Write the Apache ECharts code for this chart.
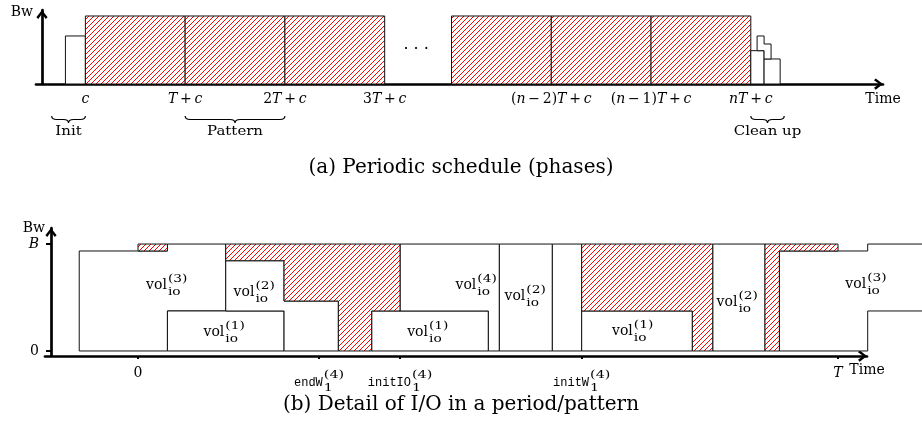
<!DOCTYPE html>
<html>
<head>
<meta charset="utf-8">
<script src="https://cdn.jsdelivr.net/npm/echarts@6.0.0/dist/echarts.min.js"></script>
<style>html,body{margin:0;padding:0;background:#fff}#chart{width:922px;height:438px}</style>
</head>
<body>
<div id="chart"></div>
<script>
// ---------- Panel (a): time in units of T measured from the Bw axis, height relative to the full bandwidth ----------
const initBlock = [[0.235, 0.435, 0.706]];                 // [start, end, height]
const patternStarts = [0.435, 1.435, 2.435, 4.105, 5.105, 6.105];
const patternLength = 1;
const patternHeight = 1;
const cleanupBlocks = [[7.105, 7.238, 0.49], [7.238, 7.399, 0.368]];
const cleanupStep = [[7.168, 0.49], [7.168, 0.706], [7.238, 0.706], [7.238, 0.588],
                     [7.308, 0.588], [7.308, 0.368], [7.238, 0.368], [7.238, 0.49]];
const phaseTickValues = [0.435, 1.435, 2.435, 3.435, 5.105, 6.105, 7.105];
const phaseTickLabels = [
  '{i|c}',
  '{i|T}{r|\u2009+\u2009}{i|c}',
  '{r|2}{i|T}{r|\u2009+\u2009}{i|c}',
  '{r|3}{i|T}{r|\u2009+\u2009}{i|c}',
  '{r|(}{i|n}{r|\u2009\u2212\u20092)}{i|T}{r|\u2009+\u2009}{i|c}',
  '{r|(}{i|n}{r|\u2009\u2212\u20091)}{i|T}{r|\u2009+\u2009}{i|c}',
  '{i|nT}{r|\u2009+\u2009}{i|c}'
];
const phaseBraces = [[0.097, 0.435, 'Init'], [1.435, 2.435, 'Pattern'], [7.105, 7.44, 'Clean up']];
const ellipsisPoint = [[3.75, 0.5]];

// ---------- Panel (b): time in units of T, bandwidth in units of B ----------
const ioShapes = [
  [[-0.084, 0], [-0.084, 0.935], [0.042, 0.935], [0.042, 1], [0.1253, 1], [0.1253, 0.374], [0.042, 0.374], [0.042, 0]],
  [[0.042, 0], [0.042, 0.374], [0.2086, 0.374], [0.2086, 0]],
  [[0.1253, 0.374], [0.1253, 0.844], [0.2086, 0.844], [0.2086, 0.467], [0.2862, 0.467], [0.2862, 0], [0.2086, 0], [0.2086, 0.374]],
  [[0.3338, 0], [0.3338, 0.374], [0.5005, 0.374], [0.5005, 0]],
  [[0.3743, 0.374], [0.3743, 1], [0.5162, 1], [0.5162, 0], [0.5005, 0], [0.5005, 0.374]],
  [[0.5162, 0], [0.5162, 1], [0.5919, 1], [0.5919, 0]],
  [[0.5919, 0], [0.5919, 1], [0.6338, 1], [0.6338, 0]],
  [[0.6338, 0], [0.6338, 0.374], [0.7919, 0.374], [0.7919, 0]],
  [[0.8210, 0], [0.8210, 1], [0.8957, 1], [0.8957, 0]],
  [[0.9162, 0], [0.9162, 0.935], [1.0424, 0.935], [1.0424, 1], [1.13, 1], [1.13, 0.374], [1.0424, 0.374], [1.0424, 0]]
];
const idleShapes = [
  [[0, 0.935], [0, 1], [0.042, 1], [0.042, 0.935]],
  [[0.1253, 1], [0.3743, 1], [0.3743, 0.374], [0.3338, 0.374], [0.3338, 0], [0.2862, 0], [0.2862, 0.467], [0.2086, 0.467], [0.2086, 0.844], [0.1253, 0.844]],
  [[0.6338, 1], [0.8210, 1], [0.8210, 0], [0.7919, 0], [0.7919, 0.374], [0.6338, 0.374]],
  [[0.8957, 1], [1.0, 1], [1.0, 0.935], [0.9162, 0.935], [0.9162, 0], [0.8957, 0]]
];
// [x centre, baseline (B units), superscript]
const volLabels = [
  [0.041, 0.57, '(3)'], [0.123, 0.134, '(1)'], [0.166, 0.507, '(2)'],
  [0.414, 0.134, '(1)'], [0.483, 0.57, '(4)'], [0.553, 0.467, '(2)'],
  [0.7066, 0.14, '(1)'], [0.856, 0.414, '(2)'], [1.04, 0.58, '(3)']
];
const ioTickValues = [0, 0.2586, 0.3743, 0.6338, 1];
const ioLabelValues = [0, 1];
const ioLabelTexts = ['{r|0}', '{i|T}'];
const ioNamedTicks = [[0.2586, 'endW', '(4)', '1'], [0.3743, 'initIO', '(4)', '1'], [0.6338, 'initW', '(4)', '1']];
const bwTickValues = [0, 1];
const bwTickTexts = ['{r|0}', '{i|B}'];

// ---------- helpers ----------
const SERIF = '"DejaVu Serif"';
const hatchCanvas = (function () {
  const s = 5, c = document.createElement('canvas');
  c.width = s; c.height = s;
  const g = c.getContext('2d');
  g.fillStyle = '#ffffff'; g.fillRect(0, 0, s, s);
  g.strokeStyle = '#ff0000'; g.lineWidth = 1;
  g.beginPath();
  g.moveTo(-1, s + 1); g.lineTo(s + 1, -1);
  g.moveTo(-1, 1); g.lineTo(1, -1);
  g.moveTo(s - 1, s + 1); g.lineTo(s + 1, s - 1);
  g.stroke();
  return c;
})();
const HATCH = { image: hatchCanvas, repeat: 'repeat' };
const measureCtx = document.createElement('canvas').getContext('2d');
function textWidth(t, font) { measureCtx.font = font; return measureCtx.measureText(t).width; }
function poly(api, pts, fill) {
  return { type: 'polygon', shape: { points: pts.map(q => api.coord(q)) },
           style: { fill: fill, stroke: '#111', lineWidth: 1 } };
}
function rectPts(x0, x1, y0, y1) { return [[x0, y0], [x0, y1], [x1, y1], [x1, y0]]; }
function scripted(cx, mid, main, mainFont, sup, sub, smallFont, sx, supDy, subDy) {
  const wm = textWidth(main, mainFont);
  const ws = textWidth(sup, smallFont) * sx, wb = textWidth(sub, smallFont) * sx;
  const left = cx - (wm + 1 + Math.max(ws, wb)) / 2;
  const x2 = left + wm + 1;
  return [
    { type: 'text', x: left, y: mid, style: { text: main, font: mainFont, fill: '#000', align: 'left', verticalAlign: 'middle' } },
    { type: 'text', x: x2, y: mid + supDy, scaleX: sx, style: { text: sup, font: smallFont, fill: '#000', align: 'left', verticalAlign: 'middle' } },
    { type: 'text', x: x2, y: mid + subDy, scaleX: sx, style: { text: sub, font: smallFont, fill: '#000', align: 'left', verticalAlign: 'middle' } }
  ];
}
echarts.graphic.registerShape('brace', echarts.graphic.extendShape({
  type: 'brace',
  shape: { x1: 0, x2: 0, y: 0, h: 6 },
  buildPath: function (ctx, s) {
    const m = (s.x1 + s.x2) / 2, r = Math.min(5, (s.x2 - s.x1) / 6), hm = s.y + s.h * 0.5;
    ctx.moveTo(s.x1, s.y);
    ctx.quadraticCurveTo(s.x1, hm, s.x1 + r, hm);
    ctx.lineTo(m - r, hm);
    ctx.quadraticCurveTo(m, hm, m, s.y + s.h);
    ctx.quadraticCurveTo(m, hm, m + r, hm);
    ctx.lineTo(s.x2 - r, hm);
    ctx.quadraticCurveTo(s.x2, hm, s.x2, s.y);
  }
}));

const ARROW = 'path://M5,0 L10,6.5 L8.3,8 L5,3.4 L1.7,8 L0,6.5 Z';
const RICH = {
  i: { fontFamily: SERIF, fontStyle: 'italic', fontSize: 14, color: '#000' },
  r: { fontFamily: SERIF, fontSize: 14, color: '#000' }
};
const axisLineStyle = { color: '#000', width: 2.7 };
const arrowLine = { symbol: ['none', ARROW], symbolSize: [12, 9], symbolOffset: [0, -4.5] };
function nearestIdx(arr, v) { return arr.findIndex(t => Math.abs(t - v) < 1e-6); }

const bottomYMin = -0.047;

const option = {
  animation: false,
  backgroundColor: '#fff',
  title: [
    { text: '(a) Periodic schedule (phases)', left: 'center', top: 158, padding: 0,
      textStyle: { fontFamily: SERIF, fontSize: 20, fontWeight: 'normal', color: '#000' } },
    { text: '(b) Detail of I/O in a period/pattern', left: 'center', top: 395, padding: 0,
      textStyle: { fontFamily: SERIF, fontSize: 20, fontWeight: 'normal', color: '#000' } }
  ],
  grid: [
    { left: 36, right: 39, top: 10, bottom: 354, containLabel: false, outerBoundsMode: 'none' },
    { left: 45, right: 55, top: 228, bottom: 82, containLabel: false, outerBoundsMode: 'none' }
  ],
  xAxis: [
    { gridIndex: 0, type: 'value', min: -0.06, max: 8.43,
      axisLine: Object.assign({ show: true, onZero: true, lineStyle: axisLineStyle }, arrowLine),
      axisTick: { show: false }, splitLine: { show: false },
      axisLabel: { show: true, customValues: phaseTickValues, margin: 8, rich: RICH,
        formatter: v => { const k = nearestIdx(phaseTickValues, v); return k < 0 ? '' : phaseTickLabels[k]; } },
      name: 'Time', nameLocation: 'end', nameGap: 0,
      nameTextStyle: { fontFamily: SERIF, fontSize: 14, color: '#000', align: 'center', verticalAlign: 'top', padding: [8, 0, 0, 0] } },
    { gridIndex: 1, type: 'value', min: -0.1329, max: 1.0414,
      axisLine: Object.assign({ show: true, onZero: false, lineStyle: axisLineStyle }, arrowLine),
      axisTick: { show: true, customValues: ioTickValues, length: 3, lineStyle: { color: '#000', width: 2 } },
      splitLine: { show: false },
      axisLabel: { show: true, customValues: ioLabelValues, margin: 10, rich: RICH,
        formatter: v => { const k = nearestIdx(ioLabelValues, v); return k < 0 ? '' : ioLabelTexts[k]; } },
      name: 'Time', nameLocation: 'end', nameGap: 0,
      nameTextStyle: { fontFamily: SERIF, fontSize: 14, color: '#000', align: 'center', verticalAlign: 'top', padding: [7, 0, 0, 0] } }
  ],
  yAxis: [
    { gridIndex: 0, type: 'value', min: 0, max: 1.088,
      axisLine: Object.assign({ show: true, onZero: true, lineStyle: axisLineStyle }, arrowLine),
      axisTick: { show: false }, axisLabel: { show: false }, splitLine: { show: false },
      name: 'Bw', nameLocation: 'end', nameGap: -2,
      nameTextStyle: { fontFamily: SERIF, fontSize: 14, color: '#000', align: 'right', verticalAlign: 'middle', padding: [0, 9, 0, 0] } },
    { gridIndex: 1, type: 'value', min: bottomYMin, max: 1.15, offset: -6,
      axisLine: Object.assign({ show: true, onZero: false, lineStyle: axisLineStyle }, arrowLine),
      axisTick: { show: true, customValues: bwTickValues, length: 5, lineStyle: { color: '#000', width: 2 } },
      axisLabel: { show: true, customValues: bwTickValues, margin: 12, rich: RICH,
        formatter: v => { const k = nearestIdx(bwTickValues, v); return k < 0 ? '' : bwTickTexts[k]; } },
      splitLine: { show: false },
      name: 'Bw', nameLocation: 'end', nameGap: 0,
      nameTextStyle: { fontFamily: SERIF, fontSize: 14, color: '#000', align: 'right', verticalAlign: 'middle', padding: [0, 6, 0, 0] } }
  ],
  series: [
    { type: 'custom', name: 'Init', xAxisIndex: 0, yAxisIndex: 0, silent: true, z: 2,
      data: initBlock.map(b => [b[0], b[2]]),
      renderItem: (p, api) => { const b = initBlock[p.dataIndex]; return poly(api, rectPts(b[0], b[1], 0, b[2]), '#fff'); } },
    { type: 'custom', name: 'Pattern', xAxisIndex: 0, yAxisIndex: 0, silent: true, z: 2,
      data: patternStarts.map(s => [s, patternHeight]),
      renderItem: (p, api) => { const s = patternStarts[p.dataIndex]; return poly(api, rectPts(s, s + patternLength, 0, patternHeight), HATCH); } },
    { type: 'custom', name: 'Clean up', xAxisIndex: 0, yAxisIndex: 0, silent: true, z: 2,
      data: cleanupBlocks.map(b => [b[0], b[2]]),
      renderItem: (p, api) => { const b = cleanupBlocks[p.dataIndex]; return poly(api, rectPts(b[0], b[1], 0, b[2]), '#fff'); } },
    { type: 'custom', name: 'Clean up step', xAxisIndex: 0, yAxisIndex: 0, silent: true, z: 2,
      data: [cleanupStep[0]],
      renderItem: (p, api) => poly(api, cleanupStep, '#fff') },
    { type: 'custom', name: 'Ellipsis', xAxisIndex: 0, yAxisIndex: 0, silent: true, z: 3,
      data: ellipsisPoint,
      renderItem: (p, api) => { const c = api.coord(ellipsisPoint[p.dataIndex]);
        return { type: 'text', x: c[0], y: c[1], style: { text: '\u00b7 \u00b7 \u00b7', font: '16px ' + SERIF, fill: '#000', align: 'center', verticalAlign: 'middle' } }; } },
    { type: 'custom', name: 'Phases', xAxisIndex: 0, yAxisIndex: 0, silent: true, z: 3,
      data: phaseBraces.map(b => [b[0], 0]),
      renderItem: (p, api) => {
        const b = phaseBraces[p.dataIndex];
        const a = api.coord([b[0], 0]), e = api.coord([b[1], 0]);
        return { type: 'group', children: [
          { type: 'brace', shape: { x1: a[0], x2: e[0], y: a[1] + 32, h: 7 }, style: { stroke: '#000', fill: 'none', lineWidth: 1.2 } },
          { type: 'text', x: (a[0] + e[0]) / 2, y: a[1] + 48, scaleX: 1.15,
            style: { text: b[2], font: '13px ' + SERIF, fill: '#000', align: 'center', verticalAlign: 'middle' } }
        ] };
      } },
    { type: 'custom', name: 'I/O volumes', xAxisIndex: 1, yAxisIndex: 1, silent: true, z: 2,
      data: ioShapes.map(s => s[0]),
      renderItem: (p, api) => poly(api, ioShapes[p.dataIndex], '#fff') },
    { type: 'custom', name: 'Idle bandwidth', xAxisIndex: 1, yAxisIndex: 1, silent: true, z: 2,
      data: idleShapes.map(s => s[0]),
      renderItem: (p, api) => poly(api, idleShapes[p.dataIndex], HATCH) },
    { type: 'custom', name: 'Volume labels', xAxisIndex: 1, yAxisIndex: 1, silent: true, z: 3,
      data: volLabels.map(l => [l[0], l[1]]),
      renderItem: (p, api) => {
        const l = volLabels[p.dataIndex];
        const c = api.coord([l[0], l[1]]);
        return { type: 'group', children: scripted(c[0], c[1] - 4.5, 'vol', '14px ' + SERIF, l[2], 'io', '11px ' + SERIF, 1.25, -6.5, 7.1) };
      } },
    { type: 'custom', name: 'Named ticks', xAxisIndex: 1, yAxisIndex: 1, silent: true, z: 3,
      data: ioNamedTicks.map(t => [t[0], bottomYMin]),
      renderItem: (p, api) => {
        const t = ioNamedTicks[p.dataIndex];
        const c = api.coord([t[0], bottomYMin]);
        return { type: 'group', children: scripted(c[0], c[1] + 27, t[1], '12px "Liberation Mono"', t[2], t[3], '11px ' + SERIF, 1.3, -7.7, 5) };
      } }
  ]
};

const chart = echarts.init(document.getElementById('chart'), null, { renderer: 'canvas' });
chart.setOption(option);
</script>
</body>
</html>
